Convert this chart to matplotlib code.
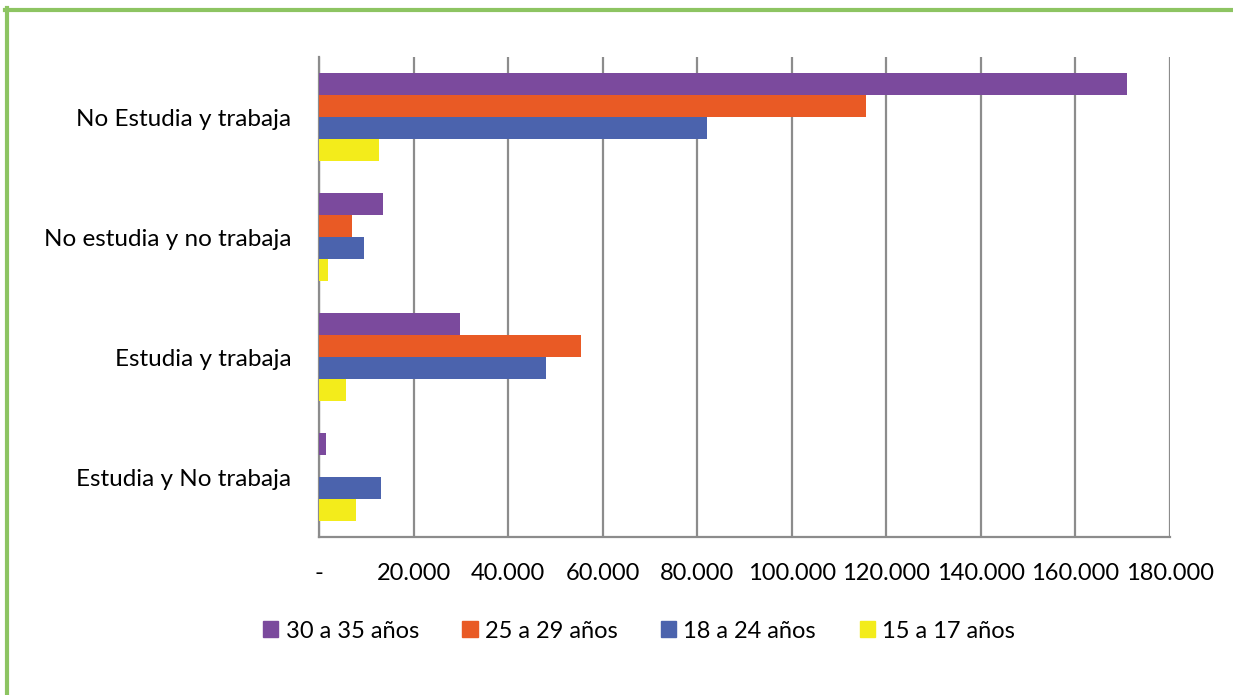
import numpy as np
import matplotlib
matplotlib.use('Agg')
import matplotlib.pyplot as plt
import matplotlib.patches as patches
from matplotlib.lines import Line2D
from matplotlib.ticker import FuncFormatter, MultipleLocator

categories = ['No Estudia y trabaja', 'No estudia y no trabaja', 'Estudia y trabaja', 'Estudia y No trabaja']
series_names = ['30 a 35 años', '25 a 29 años', '18 a 24 años', '15 a 17 años']
s30_35 = [171000, 13500, 29900, 1400]
s25_29 = [115600, 7050, 55400, 0]
s18_24 = [82100, 9600, 48000, 13100]
s15_17 = [12700, 1850, 5700, 7900]
colors = ['#7B4A9D', '#E95A25', '#4B63AD', '#F3EC1B']

plt.rcParams['font.family'] = ['Lato', 'DejaVu Sans']
FS = 17

W, H = 1233, 695
fig = plt.figure(figsize=(W/100, H/100), dpi=100)
ax = fig.add_axes([319/W, 1-537/H, (1170-319)/W, (537-57)/H])

series = [s30_35, s25_29, s18_24, s15_17]
h = 1/5.5
y = np.arange(len(categories))
for j, vals in enumerate(series):
  ax.barh(y + (j-1.5)*h, vals, height=h, color=colors[j], label=series_names[j], zorder=3)

ax.set_ylim(3.5, -0.5)
ax.set_xlim(0, 180000)
ax.xaxis.set_major_locator(MultipleLocator(20000))
ax.xaxis.set_major_formatter(FuncFormatter(lambda v, p: '-' if v == 0 else '{:,.0f}'.format(v).replace(',', '.')))
ax.set_yticks(y)
ax.set_yticklabels(categories, fontsize=FS+0.5)
ax.tick_params(axis='both', length=0, labelsize=FS, colors='black')
ax.tick_params(axis='y', pad=20, labelsize=FS+0.5)
ax.tick_params(axis='x', pad=19)
ax.grid(axis='x', color='#8C8C8C', linewidth=1.6, zorder=0)
for s in ['top', 'right']:
  ax.spines[s].set_visible(False)
for s in ['left', 'bottom']:
  ax.spines[s].set_color('#8C8C8C')
  ax.spines[s].set_linewidth(1.6)

handles = [patches.Patch(color=c) for c in colors]
fig.legend(handles, series_names, loc='center', bbox_to_anchor=(639/W, 1-631/H), ncol=4,
           frameon=False, fontsize=FS, handlelength=0.64, handleheight=0.68,
           handletextpad=0.3, columnspacing=1.85)

green = '#8DC462'
fig.add_artist(Line2D([5/W, 1], [1-10/H, 1-10/H], color=green, linewidth=3, transform=fig.transFigure))
fig.add_artist(Line2D([7/W, 7/W], [0, 1-8/H], color=green, linewidth=3, transform=fig.transFigure))

fig.savefig('out.png', dpi=100)
